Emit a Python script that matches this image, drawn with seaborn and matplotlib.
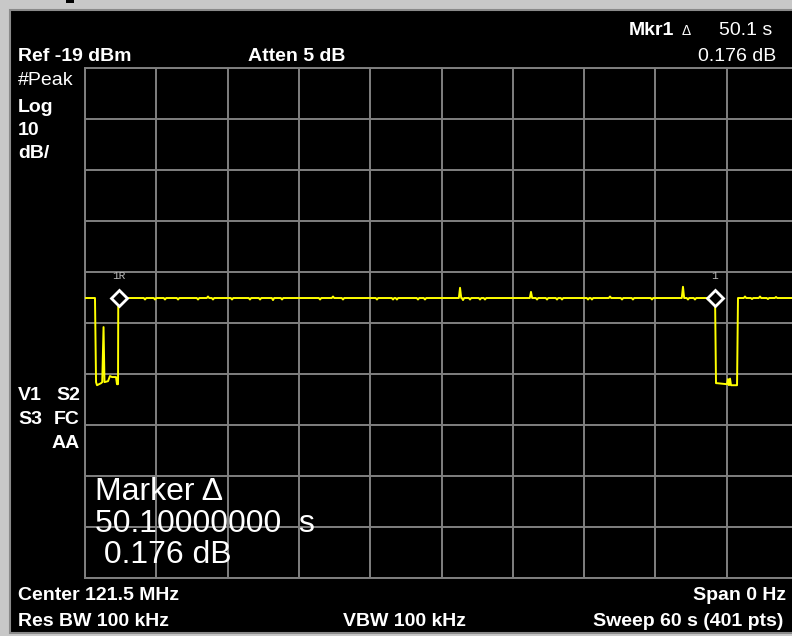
import numpy as np
import pandas as pd
import matplotlib
matplotlib.use('Agg')
import matplotlib.pyplot as plt
import seaborn as sns
from matplotlib.patches import Rectangle

sns.set_style('dark')
plt.rcParams['font.family'] = ['Liberation Sans', 'DejaVu Sans']

# analyzer settings (0 Hz span, time domain)
ref_level = -19
db_per_div = 10
sweep_time = 60
baseline_db = -64.1

# the two burst dips (time s, level dBm)
left_dip_t = [0.84, 0.93, 1.01, 1.35, 1.45, 1.56, 1.64, 1.94, 2.10, 2.27, 2.61, 2.69, 2.78, 2.80]
left_dip_db = [-64.1, -80.6, -81.2, -80.8, -80.6, -69.8, -80.6, -80.4, -79.4, -79.6, -79.6, -81.0, -81.0, -64.1]
right_dip_t = [53.02, 53.10, 53.18, 54.02, 54.11, 54.19, 54.28, 54.36, 54.78, 54.87, 54.95]
right_dip_db = [-64.1, -80.8, -80.8, -81.0, -80.0, -81.2, -79.9, -81.2, -81.2, -81.2, -64.1]

# small ripples / spikes on the flat part
blip_t = [5.05, 5.89, 6.73, 7.83, 9.51, 10.35, 10.77, 12.37, 13.88, 14.73, 15.82, 16.58,
          19.78, 20.87, 21.71, 24.57, 25.92, 26.25, 28.02, 28.61, 31.56, 31.81, 32.40,
          33.24, 33.66, 37.53, 38.04, 38.88, 39.72, 40.14, 42.33, 42.66, 44.18, 45.19,
          46.11, 47.71, 50.32, 50.74, 51.33, 52.43, 55.54, 56.13, 56.80, 57.47, 58.15]
blip_db = [-64.4, -64.4, -64.4, -64.4, -64.4, -63.8, -64.4, -64.4, -64.4, -64.4, -64.5, -64.4,
           -64.4, -63.8, -64.4, -64.4, -64.4, -64.4, -64.4, -64.4, -62.1, -64.5, -64.4,
           -64.4, -64.4, -62.9, -64.4, -64.4, -64.4, -64.4, -64.4, -64.4, -63.8, -64.4,
           -64.4, -64.4, -61.9, -64.4, -64.4, -64.4, -63.8, -64.3, -63.8, -64.3, -63.9]

marker_t = [2.86, 53.0]
marker_labels = ['1R', '1']

# assemble trace vertices
pts = [(0.0, baseline_db)] + list(zip(left_dip_t, left_dip_db))
for t, v in zip(blip_t, blip_db):
    if t > 53:
        continue
    pts += [(t - 0.1, baseline_db), (t, v), (t + 0.1, baseline_db)]
pts += list(zip(right_dip_t, right_dip_db))
for t, v in zip(blip_t, blip_db):
    if t > 53:
        pts += [(t - 0.1, baseline_db), (t, v), (t + 0.1, baseline_db)]
pts.append((sweep_time, baseline_db))
trace = pd.DataFrame(pts, columns=['time', 'level'])

W, H = 792, 636
fig = plt.figure(figsize=(W / 100, H / 100), dpi=100, facecolor='#c8c8c8')

# black instrument screen behind everything
bg = fig.add_axes([0, 0, 1, 1], zorder=-5)
bg.set_xlim(0, W)
bg.set_ylim(H, 0)
bg.axis('off')
bg.add_patch(Rectangle((10, 10), W, H - 13, facecolor='black', edgecolor='#8a8a8a', lw=1.5))
bg.add_patch(Rectangle((66, 0), 8, 2.5, facecolor='black', lw=0))

ax = fig.add_axes([85 / W, 58 / H, 713 / W, 510 / H], zorder=1)
ax.set_facecolor('black')
sns.lineplot(data=trace, x='time', y='level', estimator=None, sort=False,
             color='#ffff00', lw=1.4, ax=ax, zorder=3)
ax.plot(marker_t, [baseline_db] * 2, ls='none', marker='D', ms=8, mfc='black',
        mec='white', mew=2, zorder=4)
for t, lab in zip(marker_t, marker_labels):
    ax.annotate(lab, (t, baseline_db), xytext=(0, 12), textcoords='offset points',
                ha='center', va='bottom', fontsize=8, color='#b8b8b8',
                family='Liberation Mono')

ax.set_xlim(0, sweep_time)
ax.set_ylim(ref_level - 10 * db_per_div, ref_level)
ax.set_xticks(np.arange(0, sweep_time + 1, sweep_time / 10))
ax.set_yticks(np.arange(ref_level - 100, ref_level + 1, db_per_div))
ax.set_xticklabels([])
ax.set_yticklabels([])
ax.tick_params(length=0)
ax.grid(True, color='#808080', lw=1.4)
ax.set_axisbelow(True)
ax.set_xlabel('')
ax.set_ylabel('')
for s in ax.spines.values():
    s.set_color('#808080')
    s.set_linewidth(1.4)


def txt(x, y, s, **kw):
    kw.setdefault('color', 'white')
    kw.setdefault('fontsize', 14)
    fig.text(x / W, 1 - y / H, s, va='baseline', zorder=5, **kw)


txt(18, 61, 'Ref -19 dBm', weight='bold')
txt(248, 61, 'Atten 5 dB', weight='bold')
txt(629, 35, 'Mkr1', weight='bold')
txt(682, 35, '\u0394', fontsize=10)
txt(772, 35, '50.1 s', ha='right')
txt(776, 61, '0.176 dB', ha='right')

txt(18, 85, '#Peak')
txt(18, 112, 'Log', weight='bold')
txt(18, 135, '10', weight='bold')
txt(18, 158, 'dB/', weight='bold')

txt(18, 400, 'V1', weight='bold')
txt(80, 400, 'S2', weight='bold', ha='right')
txt(18, 424, 'S3', weight='bold')
txt(80, 424, 'FC', weight='bold', ha='right')
txt(80, 448, 'AA', weight='bold', ha='right')

txt(95, 500, 'Marker \u0394', fontsize=23)
txt(95, 532, '50.10000000  s', fontsize=23)
txt(95, 563, ' 0.176 dB', fontsize=23)

txt(18, 600, 'Center 121.5 MHz', weight='bold')
txt(786, 600, 'Span 0 Hz', weight='bold', ha='right')
txt(18, 626, 'Res BW 100 kHz', weight='bold')
txt(343, 626, 'VBW 100 kHz', weight='bold')
txt(783, 626, 'Sweep 60 s (401 pts)', weight='bold', ha='right')

fig.savefig('out.png', dpi=100, facecolor=fig.get_facecolor())
